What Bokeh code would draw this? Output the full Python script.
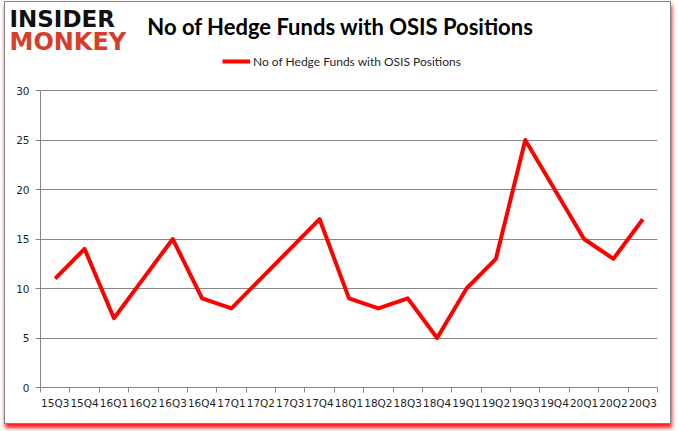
from bokeh.plotting import figure
from bokeh.models import Range1d, FixedTicker, Label, Legend, LegendItem
from bokeh.layouts import column
from bokeh.embed import file_html
from bokeh.resources import INLINE

quarters = ["15Q3", "15Q4", "16Q1", "16Q2", "16Q3", "16Q4", "17Q1", "17Q2", "17Q3", "17Q4",
            "18Q1", "18Q2", "18Q3", "18Q4", "19Q1", "19Q2", "19Q3", "19Q4", "20Q1", "20Q2", "20Q3"]
funds = [11, 14, 7, 11, 15, 9, 8, 11, 14, 17, 9, 8, 9, 5, 10, 13, 25, 20, 15, 13, 17]
y_ticks = [0, 5, 10, 15, 20, 25, 30]
title_text = "No of Hedge Funds with OSIS Positions"
series_name = "No of Hedge Funds with OSIS Positions"

xs = list(range(1, len(quarters) + 1))

GRID = "#868686"
TXT = "#1f1f1f"
W = 665
HEAD_H = 53
CHART_H = 368
FRAME_H = 332          # chart frame height in px (top part holds the legend)
Y_TOP = 30 * FRAME_H / 297.0   # 30 sits 297px above the x axis

# ---------------- header (logo + title) ----------------
head = figure(width=W, height=HEAD_H, output_backend="svg", toolbar_location=None,
              x_range=Range1d(0, 1), y_range=Range1d(0, 1),
              x_axis_location=None, y_axis_location=None,
              min_border=0, min_border_left=0, min_border_right=0,
              min_border_top=0, min_border_bottom=0)
head.frame_align = False
head.outline_line_color = None
head.grid.grid_line_color = None
head.background_fill_color = "white"
head.border_fill_color = "white"

head.add_layout(Label(x=4, y=36.5, x_units="screen", y_units="screen", text="INSIDER",
                      text_font="DejaVu Sans", text_font_style="bold", text_font_size="23px",
                      text_align="left", text_baseline="middle", text_color="#111111"))
head.add_layout(Label(x=4, y=13.5, x_units="screen", y_units="screen", text="MONKEY",
                      text_font="DejaVu Sans", text_font_style="bold", text_font_size="24px",
                      text_align="left", text_baseline="middle", text_color="#d63d2a"))
head.add_layout(Label(x=335, y=29, x_units="screen", y_units="screen", text=title_text,
                      text_font="Lato", text_font_style="bold", text_font_size="22px",
                      text_align="center", text_baseline="middle", text_color="#000000"))

# ---------------- chart ----------------
p = figure(width=W, height=CHART_H, output_backend="svg", toolbar_location=None,
           x_range=Range1d(0.5, len(quarters) + 0.5), y_range=Range1d(0, Y_TOP),
           min_border_left=35, min_border_right=13, min_border_top=0, min_border_bottom=36)
p.frame_align = False
p.outline_line_color = None
p.background_fill_color = "white"
p.border_fill_color = "white"

r = p.line(xs, funds, line_color="#ff0000", line_width=4, line_join="round")

xa = p.xaxis[0]
xa.ticker = FixedTicker(ticks=xs, minor_ticks=[i + 0.5 for i in range(len(quarters) + 1)])
xa.major_label_overrides = {x: q for x, q in zip(xs, quarters)}
xa.major_tick_line_color = None
xa.minor_tick_line_color = GRID
xa.minor_tick_out = 5
xa.minor_tick_in = 0
xa.axis_line_color = GRID
xa.major_label_standoff = 3
xa.major_label_text_font = "DejaVu Sans"
xa.major_label_text_font_size = "10.5px"
xa.major_label_text_color = TXT
p.xgrid.grid_line_color = None

ya = p.yaxis[0]
ya.ticker = FixedTicker(ticks=y_ticks)
ya.bounds = (0, 30)
ya.major_tick_line_color = GRID
ya.major_tick_out = 5
ya.major_tick_in = 0
ya.minor_tick_line_color = None
ya.axis_line_color = GRID
ya.major_label_standoff = 6
ya.major_label_text_font = "DejaVu Sans"
ya.major_label_text_font_size = "10.5px"
ya.major_label_text_color = TXT
p.ygrid.grid_line_color = GRID
p.ygrid.ticker = FixedTicker(ticks=y_ticks)

legend = Legend(items=[LegendItem(label=series_name, renderers=[r])],
                location=(182, 318.5), orientation="horizontal",
                glyph_width=28, glyph_height=12, label_height=12, label_standoff=3,
                padding=0, margin=0, spacing=0,
                border_line_color=None, background_fill_alpha=0,
                label_text_font="Lato", label_text_font_size="12px", label_text_color=TXT)
p.add_layout(legend, "center")

layout = column(head, p, spacing=0,
                styles={"border": "1px solid #808080",
                        "box-shadow": "1px 4px 4px rgba(255,0,0,0.9)",
                        "margin": "1px 0 0 4px",
                        "background": "white"})

open("out.html", "w").write(file_html(layout, INLINE))
